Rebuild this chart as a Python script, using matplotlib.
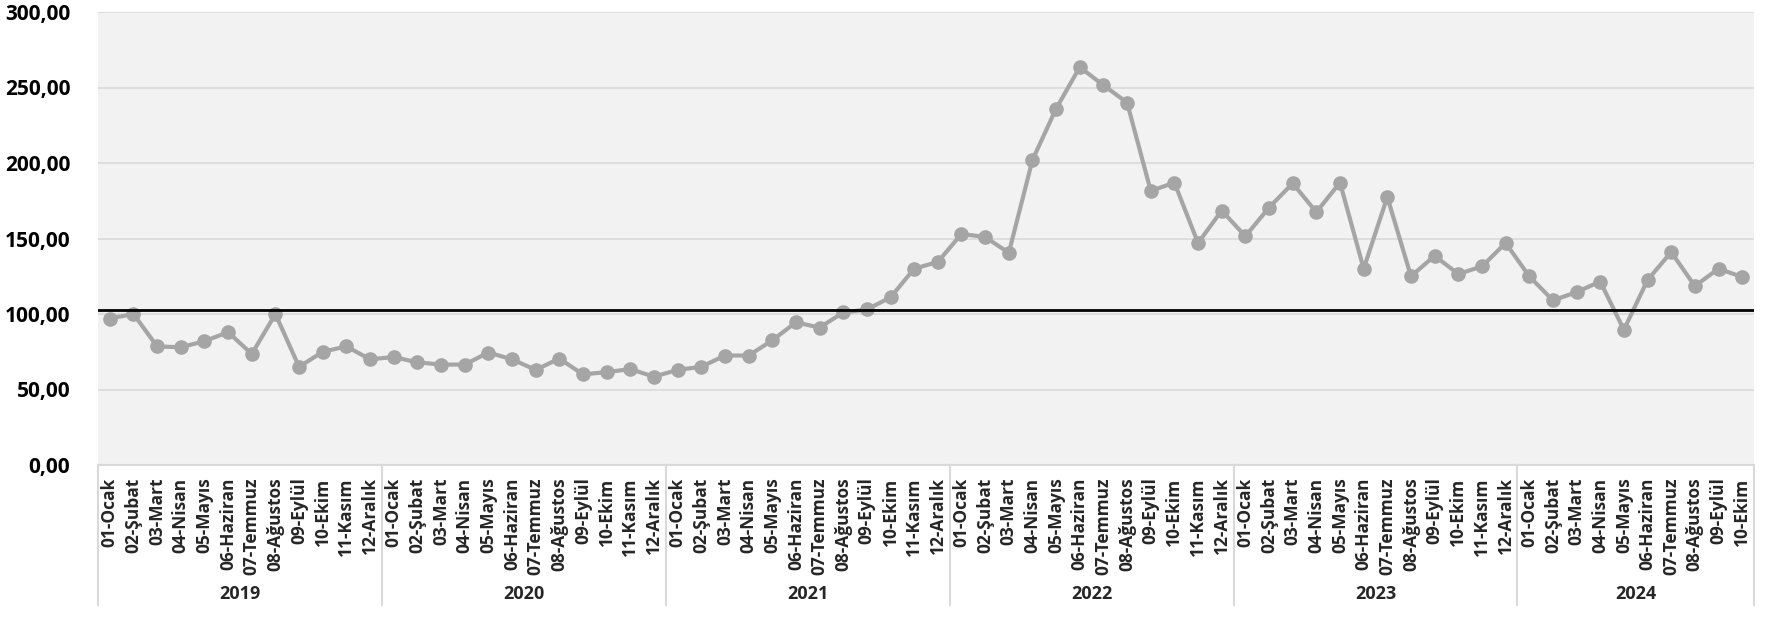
import matplotlib
matplotlib.use("Agg")
import matplotlib.pyplot as plt
import matplotlib.transforms as mtransforms
from matplotlib.ticker import FuncFormatter

years = ["2019", "2020", "2021", "2022", "2023", "2024"]
months = ["01-Ocak", "02-Şubat", "03-Mart", "04-Nisan", "05-Mayıs", "06-Haziran",
          "07-Temmuz", "08-Ağustos", "09-Eylül", "10-Ekim", "11-Kasım", "12-Aralık"]
months_per_year = [12, 12, 12, 12, 12, 10]

v2019 = [97, 100, 78.5, 78, 82, 88, 73.5, 100, 65, 75, 78.5, 70]
v2020 = [71.5, 68, 66.5, 66.5, 74.5, 70, 63, 70.5, 60, 61.5, 63.5, 58.5]
v2021 = [63, 65, 72.5, 72.5, 82.5, 94.5, 91, 101, 103, 111, 130, 134.5]
v2022 = [153, 151, 140.5, 202, 236, 263.5, 251.5, 240, 181.5, 187, 147, 168.5]
v2023 = [151.5, 170.5, 186.5, 167.5, 187, 130, 177.5, 125, 138.5, 126.5, 131.5, 147]
v2024 = [125, 109, 114.5, 121.5, 89.5, 122.5, 141, 118.5, 130, 124.5]
reference_level = 102.6

values = v2019 + v2020 + v2021 + v2022 + v2023 + v2024
labels = []
for n in months_per_year:
    labels += months[:n]

FONT = ["Open Sans", "DejaVu Sans"]
plt.rcParams["font.family"] = FONT

fig = plt.figure(figsize=(17.68, 6.24), dpi=100)
ax = fig.add_axes([98 / 1768, 1 - 465 / 624, (1754 - 98) / 1768, (465 - 12) / 624])
ax.set_facecolor("#f2f2f2")

x = list(range(len(values)))
ax.plot(x, values, color="#a5a5a5", lw=3.0, marker="o", markersize=9.5,
        markerfacecolor="#a5a5a5", markeredgecolor="#a5a5a5", zorder=3)
ax.axhline(reference_level, color="black", lw=2.0, zorder=4)

ax.set_xlim(-0.5, len(values) - 0.5)
ax.set_ylim(0, 300)
ax.set_yticks(range(0, 301, 50))
ax.yaxis.set_major_formatter(FuncFormatter(lambda v, p: f"{v:.2f}".replace(".", ",")))
ax.grid(axis="y", color="#d9d9d9", lw=1.2, zorder=0)
ax.set_axisbelow(True)
for s in ["top", "right", "left"]:
    ax.spines[s].set_visible(False)
ax.spines["bottom"].set_color("#d9d9d9")
ax.spines["bottom"].set_linewidth(1.5)

ax.tick_params(axis="y", length=0, pad=20, labelsize=15)
for t in ax.get_yticklabels():
    t.set_fontweight("bold")
    t.set_color("black")

ax.set_xticks(x)
ax.set_xticklabels(labels, rotation=90, fontsize=12.5, fontweight="bold", color="#262626",
                   va="top", ha="center")
ax.tick_params(axis="x", length=0, pad=9)

trans = mtransforms.blended_transform_factory(ax.transData, ax.transAxes)
bounds = [-0.5]
for n in months_per_year:
    bounds.append(bounds[-1] + n)
sep_bottom = -(605 - 465) / (465 - 12)
for b in bounds:
    ax.plot([b, b], [0, sep_bottom], transform=trans, color="#d9d9d9", lw=1.5, clip_on=False)
year_y = -(594 - 465) / (465 - 12)
for i, yr in enumerate(years):
    ax.text((bounds[i] + bounds[i + 1]) / 2, year_y, yr, transform=trans, ha="center",
            va="center", fontsize=13, fontweight="bold", color="#262626")

fig.savefig("out.png", dpi=100)
